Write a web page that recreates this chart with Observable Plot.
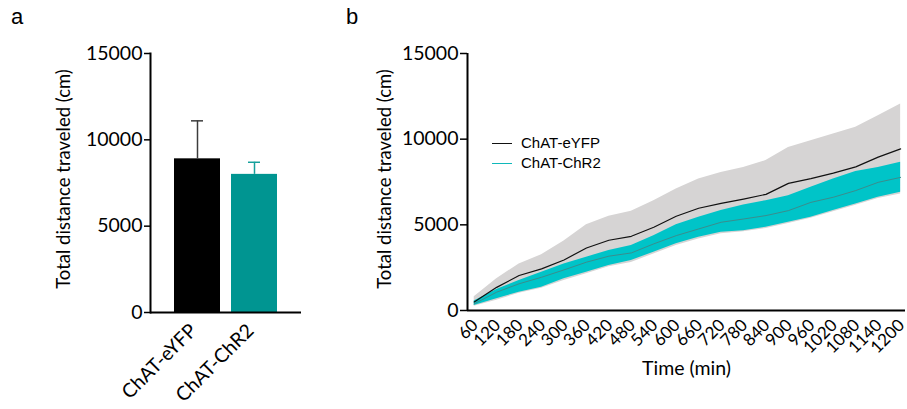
<!DOCTYPE html>
<html>
<head>
<meta charset="utf-8">
<script src="https://cdn.jsdelivr.net/npm/d3@7"></script>
<script src="https://cdn.jsdelivr.net/npm/@observablehq/plot@0.6"></script>
<style>
  body { margin: 0; background: #fff; }
  #wrap { position: relative; width: 907px; height: 409px; overflow: hidden; background: #fff; }
  .panel-letter { position: absolute; font-family: "Liberation Sans", Arial, sans-serif; font-size: 22px; color: #000; }
  .legend { position: absolute; font-family: "Liberation Sans", Arial, sans-serif; font-size: 15px; color: #000; }
  .legend .row { position: absolute; white-space: nowrap; }
  .legend .swatch { position: absolute; display: block; left: 0; top: 0; width: 20px; height: 1px; }
  .legend .lab { position: absolute; left: 29px; top: -9px; }
</style>
</head>
<body>
<div id="wrap"></div>
<script>
// ---------- Panel a data ----------
const groups = ["ChAT-eYFP", "ChAT-ChR2"];
const groupMeans = [8900, 8000];
const groupSems = [2200, 700];
const barColors = ["#000000", "#009591"];
const errColors = ["#3c3c3c", "#16a09c"];
const yTicks = [0, 5000, 10000, 15000];
const yLabel = "Total distance traveled (cm)";

// ---------- Panel b data ----------
const times = [60, 120, 180, 240, 300, 360, 420, 480, 540, 600, 660, 720, 780, 840, 900, 960, 1020, 1080, 1140, 1200];
const eyfpMean  = [500, 1350, 2040, 2430, 2950, 3650, 4100, 4330, 4860, 5500, 5970, 6250, 6500, 6780, 7420, 7700, 8020, 8380, 8950, 9430];
const eyfpUpper = [800, 1850, 2720, 3250, 4050, 5000, 5500, 5800, 6410, 7090, 7680, 8060, 8350, 8750, 9520, 9910, 10300, 10690, 11370, 12050];
const eyfpLower = [250, 600, 1000, 1300, 1750, 2150, 2550, 2800, 3300, 3800, 4180, 4480, 4600, 4780, 5080, 5380, 5760, 6150, 6530, 6800];
const chr2Mean  = [390, 1070, 1560, 1940, 2370, 2820, 3170, 3360, 3890, 4370, 4760, 5150, 5340, 5540, 5830, 6310, 6610, 7000, 7480, 7770];
const chr2Upper = [560, 1220, 1750, 2230, 2720, 3110, 3500, 3790, 4370, 5010, 5440, 5830, 6160, 6410, 6700, 7190, 7680, 8120, 8350, 8650];
const chr2Lower = [290, 680, 1070, 1360, 1850, 2230, 2620, 2920, 3400, 3890, 4270, 4560, 4660, 4860, 5150, 5440, 5830, 6220, 6610, 6900];
const xDomain = [42, 1213];
const xLabel = "Time (min)";
const seriesNames = ["ChAT-eYFP", "ChAT-ChR2"];
const lineColors = ["#111111", "#10b8ba"];

const wrap = document.getElementById("wrap");
const font = "Lato, 'Open Sans', sans-serif";

// ---------- Panel a ----------
const barData = groups.map((g, i) => ({g, mean: groupMeans[i], top: groupMeans[i] + groupSems[i], fillc: barColors[i], errc: errColors[i]}));

const plotA = Plot.plot({
  width: 320, height: 409,
  marginLeft: 150, marginRight: 19, marginTop: 53, marginBottom: 97,
  style: {fontFamily: font, fontSize: "19.5px", color: "#000", background: "transparent", overflow: "visible"},
  x: {domain: groups, paddingInner: 0.19, paddingOuter: 0.4},
  y: {domain: [0, 15000]},
  color: {type: "identity"},
  marks: [
    Plot.barY(barData, {x: "g", y: "mean", fill: "fillc"}),
    Plot.ruleX(barData, {x: "g", y1: "mean", y2: "top", stroke: "errc", strokeWidth: 1.5}),
    Plot.tickY(barData, {x: "g", y: "top", stroke: "errc", strokeWidth: 1.5, insetLeft: 17, insetRight: 17}),
    Plot.frame({anchor: "left", strokeWidth: 2}),
    Plot.ruleY([0], {strokeWidth: 2}),
    Plot.axisY({ticks: yTicks, tickSize: 6, tickPadding: 2, tickFormat: d => String(d), label: null, strokeWidth: 1.5}),
    Plot.axisX({tickSize: 0, tickRotate: -45, tickPadding: 15, label: null, fontSize: 19.5, dx: -4}),
    Plot.text([yLabel], {frameAnchor: "left", textAnchor: "middle", lineAnchor: "middle", text: d => d, rotate: -90, dx: -86, dy: -4, fontSize: 18.5})
  ]
});
plotA.style.position = "absolute";
plotA.style.left = "0px";
plotA.style.top = "0px";
wrap.appendChild(plotA);

// ---------- Panel b ----------
const eyfp = times.map((t, i) => ({t, m: eyfpMean[i], lo: eyfpLower[i], hi: eyfpUpper[i]}));
const chr2 = times.map((t, i) => ({t, m: chr2Mean[i], lo: chr2Lower[i], hi: chr2Upper[i]}));

const plotB = Plot.plot({
  width: 577, height: 409,
  marginLeft: 137, marginRight: 2, marginTop: 53, marginBottom: 99,
  style: {fontFamily: font, fontSize: "19.5px", color: "#000", background: "transparent", overflow: "visible"},
  x: {type: "linear", domain: xDomain},
  y: {domain: [0, 15000]},
  marks: [
    Plot.areaY(eyfp, {x: "t", y1: "lo", y2: "hi", fill: "#d6d4d4"}),
    Plot.areaY(chr2, {x: "t", y1: "lo", y2: "hi", fill: "#00c4c8"}),
    Plot.lineY(eyfp, {x: "t", y: "m", stroke: lineColors[0], strokeWidth: 1.2}),
    Plot.lineY(chr2, {x: "t", y: "m", stroke: "#3a8d8d", strokeWidth: 1}),
    Plot.ruleX([xDomain[0]], {y1: 0, y2: 15000, strokeWidth: 2}),
    Plot.ruleY([0], {strokeWidth: 2}),
    Plot.axisY({ticks: yTicks, tickSize: 7, tickPadding: 2, tickFormat: d => String(d), label: null, strokeWidth: 1.5}),
    Plot.axisX({ticks: times, tickSize: 0, tickRotate: -45, tickPadding: 12, tickFormat: d => String(d), label: null, fontSize: 17, dx: 1}),
    Plot.text([xLabel], {frameAnchor: "bottom", lineAnchor: "middle", text: d => d, dy: 58, fontSize: 19.5}),
    Plot.text([yLabel], {frameAnchor: "left", textAnchor: "middle", lineAnchor: "middle", text: d => d, rotate: -90, dx: -82, dy: -3, fontSize: 18.5})
  ]
});
plotB.style.position = "absolute";
plotB.style.left = "330px";
plotB.style.top = "0px";
wrap.appendChild(plotB);

// ---------- Panel letters ----------
[["a", 11, 4], ["b", 346, 4]].forEach(([t, l, tp]) => {
  const d = document.createElement("div");
  d.className = "panel-letter";
  d.textContent = t;
  d.style.left = l + "px";
  d.style.top = tp + "px";
  wrap.appendChild(d);
});

// ---------- Legend ----------
const leg = document.createElement("div");
leg.className = "legend";
leg.style.left = "492px";
leg.style.top = "143px";
seriesNames.forEach((name, i) => {
  const row = document.createElement("div");
  row.className = "row";
  row.style.top = (i * 20) + "px";
  const sw = document.createElement("span");
  sw.className = "swatch";
  sw.style.background = lineColors[i];
  const lab = document.createElement("span");
  lab.className = "lab";
  lab.textContent = name;
  row.appendChild(sw);
  row.appendChild(lab);
  leg.appendChild(row);
});
wrap.appendChild(leg);
</script>
</body>
</html>
